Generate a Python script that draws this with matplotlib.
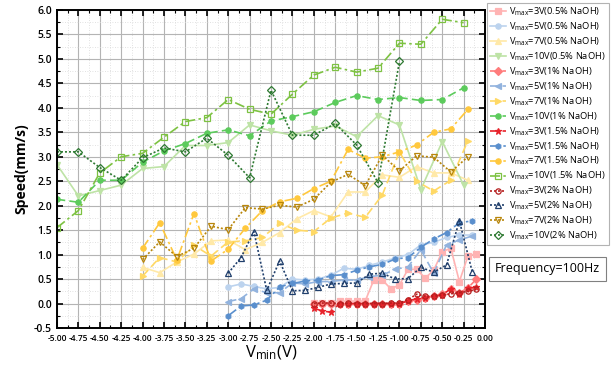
import numpy as np
import matplotlib
matplotlib.use("Agg")
import matplotlib.pyplot as plt
from matplotlib.ticker import MultipleLocator, FormatStrFormatter

plt.rcParams['font.family'] = ['Open Sans', 'DejaVu Sans']
plt.rcParams['mathtext.fontset'] = 'custom'
plt.rcParams['mathtext.rm'] = 'Open Sans'
plt.rcParams['mathtext.it'] = 'Open Sans:italic'
plt.rcParams['mathtext.bf'] = 'Open Sans:bold'

# x grids for each voltage group
x10 = [-5.0, -4.75, -4.5, -4.25, -4.0, -3.75, -3.5, -3.25, -3.0, -2.75,
       -2.5, -2.25, -2.0, -1.75, -1.5, -1.25, -1.0, -0.75, -0.5, -0.25]
x10_2 = x10[:17]
x7 = [-4.0, -3.8, -3.6, -3.4, -3.2, -3.0, -2.8, -2.6, -2.4, -2.2,
      -2.0, -1.8, -1.6, -1.4, -1.2, -1.0, -0.8, -0.6, -0.4, -0.2]
x5 = [-3.0, -2.85, -2.7, -2.55, -2.4, -2.25, -2.1, -1.95, -1.8, -1.65,
      -1.5, -1.35, -1.2, -1.05, -0.9, -0.75, -0.6, -0.45, -0.3, -0.15]
x3 = [-2.0, -1.9, -1.8, -1.7, -1.6, -1.5, -1.4, -1.3, -1.2, -1.1,
      -1.0, -0.9, -0.8, -0.7, -0.6, -0.5, -0.4, -0.3, -0.2, -0.1]

# 0.5% NaOH
v3_05 = [0.02, 0.02, 0.02, 0.05, 0.05, 0.05, 0.05, 0.48, 0.48, 0.30,
         0.38, 0.70, 0.70, 0.52, 0.68, 1.06, 1.13, 0.45, 0.97, 1.02]
v5_05 = [0.34, 0.40, 0.35, 0.30, 0.33, 0.50, 0.48, 0.50, 0.58, 0.72,
         0.70, 0.78, 0.85, 0.93, 1.00, 1.20, 1.25, 1.35, 1.40, 1.40]
v7_05 = [0.74, 0.63, 0.85, 1.01, 1.28, 1.30, 1.10, 1.25, 1.45, 1.73,
         1.90, 1.77, 2.28, 2.28, 2.63, 2.58, 2.80, 2.67, 2.67, 2.52]
v10_05 = [2.84, 2.20, 2.31, 2.42, 2.76, 2.80, 3.23, 3.23, 3.29, 3.65,
          3.53, 3.44, 3.56, 3.63, 3.41, 3.84, 3.65, 2.33, 3.31, 2.42]
# 1% NaOH
v3_1 = [0.00, 0.00, 0.00, 0.00, 0.00, 0.00, 0.00, 0.00, 0.00, 0.00,
        0.00, 0.05, 0.08, 0.12, 0.15, 0.20, 0.30, 0.22, 0.32, 0.50]
v5_1 = [0.04, 0.10, 0.30, 0.22, 0.22, 0.42, 0.40, 0.45, 0.45, 0.48,
        0.48, 0.55, 0.58, 0.70, 0.75, 1.10, 0.62, 1.20, 1.30, 1.38]
v7_1 = [0.56, 0.94, 0.85, 1.19, 0.97, 1.26, 1.28, 1.35, 1.64, 1.50,
        1.47, 1.75, 1.85, 1.76, 2.22, 3.10, 2.50, 2.30, 2.52, 3.33]
v10_1 = [2.13, 2.07, 2.52, 2.52, 2.89, 3.12, 3.27, 3.48, 3.55, 3.43,
         3.73, 3.82, 3.92, 4.11, 4.25, 4.17, 4.21, 4.15, 4.17, 4.41]
# 1.5% NaOH
v3_15 = [-0.10, -0.15, -0.18, 0.00, 0.00, 0.00, 0.00, 0.00, 0.00, 0.00,
         0.00, 0.05, 0.10, 0.12, 0.15, 0.18, 0.30, 0.20, 0.32, 0.33]
v5_15 = [-0.25, -0.05, -0.03, 0.07, 0.34, 0.41, 0.46, 0.48, 0.57, 0.59,
         0.68, 0.75, 0.80, 0.91, 0.94, 1.15, 1.32, 1.45, 1.65, 1.69]
v7_15 = [1.13, 1.65, 0.89, 1.84, 0.87, 1.11, 1.54, 1.90, 2.08, 2.15,
         2.35, 2.50, 3.15, 2.97, 3.00, 3.10, 3.24, 3.50, 3.57, 3.97]
v10_15 = [1.55, 1.90, 2.67, 3.00, 3.07, 3.40, 3.72, 3.80, 4.17, 3.97,
          3.87, 4.28, 4.67, 4.83, 4.73, 4.81, 5.32, 5.30, 5.81, 5.74]
# 2% NaOH
v3_2 = [0.00, 0.01, 0.01, 0.00, 0.01, 0.00, 0.00, 0.00, 0.00, 0.01,
        0.01, 0.08, 0.19, 0.15, 0.15, 0.17, 0.20, 0.22, 0.25, 0.29]
v5_2 = [0.62, 0.94, 1.47, 0.27, 0.87, 0.26, 0.27, 0.33, 0.40, 0.41,
        0.42, 0.60, 0.62, 0.50, 0.51, 0.74, 0.64, 0.79, 1.69, 0.65]
v7_2 = [0.90, 1.26, 0.96, 1.13, 1.58, 1.51, 1.96, 1.93, 2.01, 1.97,
        2.13, 2.48, 2.64, 2.41, 3.03, 2.71, 3.02, 2.99, 2.69, 3.00]
v10_2 = [3.10, 3.10, 2.78, 2.52, 2.98, 3.18, 3.10, 3.38, 3.03, 2.57,
         4.36, 3.44, 3.44, 3.68, 3.24, 2.47, 4.95]

labels = [r'V$_{\mathrm{max}}$=3V(0.5% NaOH)', r'V$_{\mathrm{max}}$=5V(0.5% NaOH)',
          r'V$_{\mathrm{max}}$=7V(0.5% NaOH)', r'V$_{\mathrm{max}}$=10V(0.5% NaOH)',
          r'V$_{\mathrm{max}}$=3V(1% NaOH)', r'V$_{\mathrm{max}}$=5V(1% NaOH)',
          r'V$_{\mathrm{max}}$=7V(1% NaOH)', r'V$_{\mathrm{max}}$=10V(1% NaOH)',
          r'V$_{\mathrm{max}}$=3V(1.5% NaOH)', r'V$_{\mathrm{max}}$=5V(1.5% NaOH)',
          r'V$_{\mathrm{max}}$=7V(1.5% NaOH)', r'V$_{\mathrm{max}}$=10V(1.5% NaOH)',
          r'V$_{\mathrm{max}}$=3V(2% NaOH)', r'V$_{\mathrm{max}}$=5V(2% NaOH)',
          r'V$_{\mathrm{max}}$=7V(2% NaOH)', r'V$_{\mathrm{max}}$=10V(2% NaOH)']

series = [
    (x3, v3_05, '#FFB3B3', '-', 's', True),
    (x5, v5_05, '#BCD3EE', '-', 'o', True),
    (x7, v7_05, '#FFE9A8', '-', '^', True),
    (x10, v10_05, '#BEE3A6', '-', 'v', True),
    (x3, v3_1, '#FF7C7C', (0, (5, 2.5)), 'D', True),
    (x5, v5_1, '#92B3DE', (0, (5, 2.5)), '<', True),
    (x7, v7_1, '#FFD966', (0, (5, 2.5)), '>', True),
    (x10, v10_1, '#5CCB5C', (0, (5, 2.5)), 'o', True),
    (x3, v3_15, '#E8232B', (0, (5, 2.5)), '*', True),
    (x5, v5_15, '#5A8FCD', (0, (6, 2, 1.5, 2)), 'h', True),
    (x7, v7_15, '#FFC83D', (0, (6, 2, 1.5, 2)), 'o', True),
    (x10, v10_15, '#7DC242', (0, (6, 2, 1.5, 2)), 's', False),
    (x3, v3_2, '#B51E1E', (0, (1.2, 1.2)), 'o', False),
    (x5, v5_2, '#203F6C', (0, (1.2, 1.2)), '^', False),
    (x7, v7_2, '#B8860B', (0, (1.2, 1.2)), 'v', False),
    (x10_2, v10_2, '#2E7A32', (0, (1.2, 1.2)), 'D', False),
]

fig = plt.figure(figsize=(6.14, 3.67), dpi=100)
ax = fig.add_axes([0.0928, 0.1063, 0.6972, 0.8665])

for (xs, ys, c, ls, m, filled), lab in zip(series, labels):
    ms = 4.5 if m == '*' else 3.8
    ax.plot(xs, ys, color=c, linestyle=ls, linewidth=1.2, marker=m,
            markersize=ms, markerfacecolor=c if filled else 'none',
            markeredgecolor=c, markeredgewidth=0.9, label=lab)

ax.set_xlim(-5.0, 0.0)
ax.set_ylim(-0.5, 6.0)
ax.xaxis.set_major_locator(MultipleLocator(0.25))
ax.xaxis.set_minor_locator(MultipleLocator(0.125))
ax.yaxis.set_major_locator(MultipleLocator(0.5))
ax.yaxis.set_minor_locator(MultipleLocator(0.25))
ax.xaxis.set_major_formatter(FormatStrFormatter('%.2f'))
ax.yaxis.set_major_formatter(FormatStrFormatter('%.1f'))
ax.grid(True, which='major', color='#b4b4b4', linewidth=0.8)
ax.grid(True, which='minor', color='#d8d8d8', linewidth=0.6, linestyle=(0, (1, 2)))
ax.set_axisbelow(True)
ax.tick_params(which='both', direction='in', top=True, right=True)
ax.tick_params(which='major', length=4, width=1.2)
ax.tick_params(which='minor', length=2, width=0.8)
ax.tick_params(axis='x', labelsize=6, pad=4)
ax.tick_params(axis='y', labelsize=7.5)
for lab in ax.get_xticklabels() + ax.get_yticklabels():
    lab.set_fontweight('semibold')
for s in ax.spines.values():
    s.set_linewidth(1.4)

ax.set_ylabel('Speed(mm/s)', fontsize=10, fontweight='bold', labelpad=4)
ax.set_xlabel(r'V$_{\mathrm{min}}$(V)', fontsize=12, labelpad=1)

leg = fig.legend(loc='upper left', bbox_to_anchor=(0.793, 0.992), fontsize=6.7,
                 frameon=True, fancybox=False, edgecolor='#a0a0a0',
                 handlelength=1.8, handletextpad=0.3, labelspacing=0.26,
                 borderpad=0.3, borderaxespad=0)
leg.get_frame().set_linewidth(0.8)

fig.text(0.806, 0.268, 'Frequency=100Hz', fontsize=9, ha='left', va='center',
         bbox=dict(boxstyle='square,pad=0.45', facecolor='white',
                   edgecolor='#808080', linewidth=0.8))

fig.savefig('out.png', dpi=100)
